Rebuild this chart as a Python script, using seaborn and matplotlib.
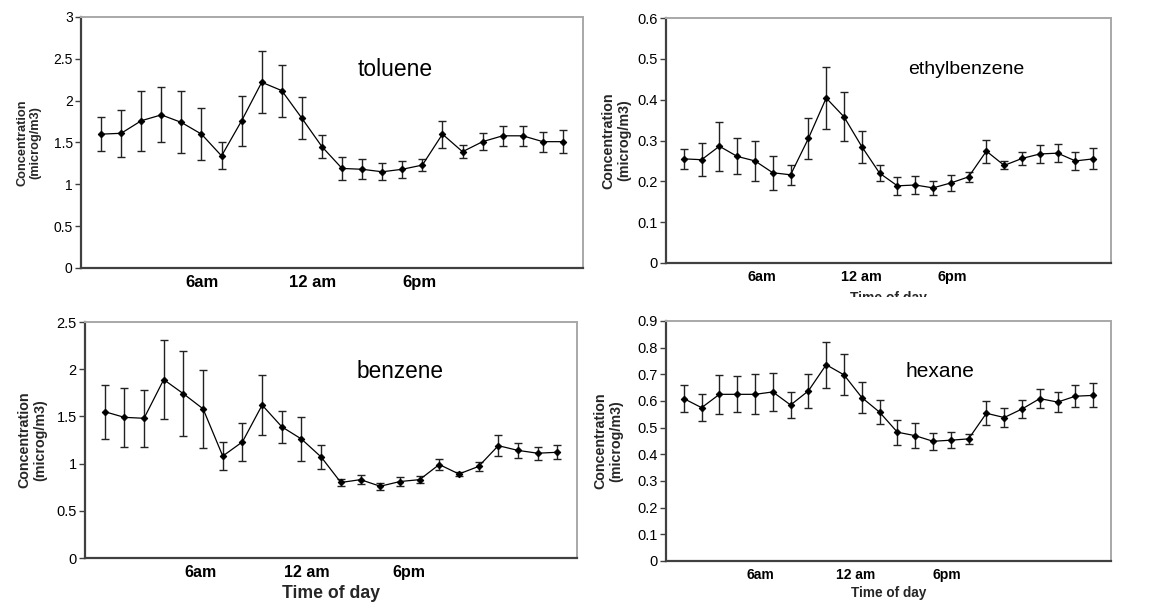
import numpy as np
import pandas as pd
import matplotlib
matplotlib.use("Agg")
import matplotlib.pyplot as plt
from matplotlib.patches import Rectangle
import seaborn as sns

# ---------------- data ----------------
hours = list(range(1, 25))
tick_labels = ["6am", "12 am", "6pm"]

toluene = [1.60, 1.61, 1.76, 1.83, 1.74, 1.60, 1.34, 1.76, 2.22, 2.12, 1.79, 1.45,
           1.19, 1.18, 1.15, 1.18, 1.23, 1.60, 1.39, 1.51, 1.58, 1.58, 1.51, 1.51]
toluene_err = [0.20, 0.28, 0.36, 0.33, 0.37, 0.31, 0.16, 0.30, 0.37, 0.31, 0.25, 0.14,
               0.14, 0.12, 0.10, 0.10, 0.07, 0.16, 0.08, 0.10, 0.12, 0.12, 0.12, 0.14]

ethylbenzene = [0.255, 0.253, 0.286, 0.261, 0.250, 0.221, 0.216, 0.305, 0.404, 0.358, 0.285, 0.220,
                0.189, 0.191, 0.184, 0.196, 0.211, 0.274, 0.239, 0.256, 0.267, 0.269, 0.250, 0.255]
ethylbenzene_err = [0.025, 0.040, 0.060, 0.044, 0.050, 0.042, 0.025, 0.050, 0.075, 0.060, 0.039, 0.020,
                    0.022, 0.022, 0.018, 0.020, 0.013, 0.028, 0.010, 0.016, 0.021, 0.022, 0.022, 0.026]

benzene = [1.55, 1.49, 1.48, 1.89, 1.74, 1.58, 1.08, 1.23, 1.62, 1.39, 1.26, 1.07,
           0.80, 0.83, 0.76, 0.81, 0.83, 0.99, 0.89, 0.97, 1.19, 1.14, 1.11, 1.12]
benzene_err = [0.285, 0.31, 0.30, 0.42, 0.45, 0.41, 0.15, 0.20, 0.32, 0.17, 0.23, 0.13,
               0.040, 0.045, 0.035, 0.045, 0.035, 0.060, 0.023, 0.047, 0.11, 0.08, 0.07, 0.075]

hexane = [0.609, 0.575, 0.625, 0.625, 0.625, 0.634, 0.585, 0.638, 0.736, 0.698, 0.613, 0.558,
          0.483, 0.470, 0.449, 0.453, 0.458, 0.554, 0.538, 0.570, 0.609, 0.596, 0.618, 0.621]
hexane_err = [0.052, 0.050, 0.073, 0.067, 0.075, 0.070, 0.048, 0.064, 0.087, 0.077, 0.057, 0.045,
              0.047, 0.046, 0.032, 0.031, 0.020, 0.045, 0.036, 0.035, 0.037, 0.038, 0.042, 0.045]

# ---------------- style ----------------
sns.set_theme(style="white")
plt.rcParams['font.family'] = ['Liberation Sans', 'DejaVu Sans']

W, H = 1172, 613
fig = plt.figure(figsize=(W / 100, H / 100), dpi=100)
fig.patch.set_facecolor("white")


def px_axes(left, top, right, bottom):
    return fig.add_axes([left / W, 1 - bottom / H, (right - left) / W, (bottom - top) / H])


panels = [
    dict(name="toluene", y=toluene, e=toluene_err, box=(81, 17, 583, 268), ylim=3, ystep=0.5,
         yfmt="{:g}", ticks=[6.03, 11.53, 16.83], tfs=12, yfs=10, lfs=9.2, lx=29,
         tx=0.625, tsz=16.5, xlabel=None, xlfs=None, xly=None),
    dict(name="ethylbenzene", y=ethylbenzene, e=ethylbenzene_err, box=(666, 18, 1111, 263), ylim=0.6,
         ystep=0.1, yfmt="{:g}", ticks=[5.39, 11.0, 16.1], tfs=10.4, yfs=10.5, lfs=10.3, lx=616,
         tx=0.674, tsz=14, xlabel="Time of day", xlfs=10, xly=298),
    dict(name="benzene", y=benzene, e=benzene_err, box=(85, 322, 577, 558), ylim=2.5, ystep=0.5,
         yfmt="{:g}", ticks=[5.89, 11.28, 16.46], tfs=11.5, yfs=10.5, lfs=10.3, lx=32,
         tx=0.64, tsz=16.3, xlabel="Time of day", xlfs=12.7, xly=594),
    dict(name="hexane", y=hexane, e=hexane_err, box=(666, 321, 1111, 561), ylim=0.9, ystep=0.1,
         yfmt="{:g}", ticks=[5.28, 10.67, 15.79], tfs=10, yfs=10.5, lfs=10.3, lx=608,
         tx=0.616, tsz=15, xlabel="Time of day", xlfs=9.8, xly=593),
]

for p in panels:
    left, top, right, bottom = p["box"]
    ax = px_axes(left, top, right, bottom)
    df = pd.DataFrame({"hour": hours, "conc": p["y"], "err": p["e"]})
    ax.errorbar(df["hour"], df["conc"], yerr=df["err"], fmt="none", ecolor="#222222",
                elinewidth=1.0, capsize=3, capthick=1.0, zorder=2)
    sns.lineplot(data=df, x="hour", y="conc", ax=ax, color="black", linewidth=0.9,
                 marker="D", markersize=3.3, markeredgecolor="black", markerfacecolor="black",
                 zorder=3)
    ax.set_xlim(0, 25)
    ax.set_ylim(0, p["ylim"])
    yt = np.round(np.arange(0, p["ylim"] + 1e-9, p["ystep"]), 3)
    ax.set_yticks(yt)
    ax.set_yticklabels([p["yfmt"].format(v) for v in yt], fontsize=p["yfs"], color="black")
    ax.set_xticks(p["ticks"])
    ax.set_xticklabels(tick_labels, fontsize=p["tfs"], fontweight="bold", color="black")
    ax.tick_params(axis="x", length=0, pad=5)
    ax.tick_params(axis="y", direction="out", length=4, width=1, color="#404040", pad=2, left=True)
    for s in ["left", "bottom"]:
        ax.spines[s].set_color("#404040")
        ax.spines[s].set_linewidth(1.6)
    for s in ["top", "right"]:
        ax.spines[s].set_color("#a8a8a8")
        ax.spines[s].set_linewidth(1.4)
    ax.set_xlabel("")
    ax.set_ylabel("")
    ax.grid(False)
    ax.text(p["tx"], 0.79, p["name"], transform=ax.transAxes, ha="center", va="center",
            fontsize=p["tsz"], color="black")
    fig.text(p["lx"] / W, 1 - ((top + bottom) / 2) / H, "Concentration\n(microg/m3)",
             rotation=90, ha="center", va="center", fontsize=p["lfs"], fontweight="bold",
             linespacing=1.15)
    if p["xlabel"]:
        fig.text(((left + right) / 2) / W, 1 - p["xly"] / H, p["xlabel"], ha="center",
                 va="center", fontsize=p["xlfs"], fontweight="bold", zorder=1)

# the ethylbenzene axis label is cut off in the reference
fig.add_artist(Rectangle((590 / W, 1 - 312 / H), (W - 590) / W, 15 / H,
                         transform=fig.transFigure, facecolor="white", edgecolor="none",
                         zorder=5))

fig.savefig("out.png", dpi=100, facecolor="white")
